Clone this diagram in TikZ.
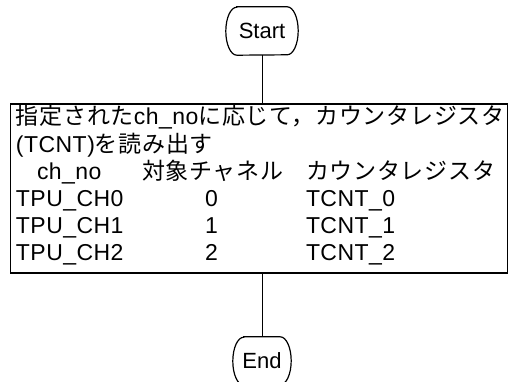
\documentclass[tikz,border=0pt]{standalone}
\usepackage{fontspec}
\setmainfont{Liberation Sans}[LetterSpace=2]
\newfontfamily\jpfont{Noto Sans CJK JP}[LetterSpace=3.2]
\newfontfamily\plainfont{Liberation Sans}
\newcommand\jp[1]{{\jpfont #1}}
\newcommand\termoutline[1]{%
  \draw[termline] ([xshift=11pt]#1.north west) -- ([xshift=-11pt]#1.north east)
    arc[start angle=90,end angle=-90,x radius=11pt,y radius=24pt]
    -- ([xshift=11pt]#1.south west)
    arc[start angle=270,end angle=90,x radius=11pt,y radius=24pt] -- cycle;}
\begin{document}
\begin{tikzpicture}[x=1pt,y=1pt,
  font=\fontsize{23pt}{27pt}\selectfont,
  txt/.style={anchor=base west, inner sep=0pt, outer sep=0pt},
  term/.style={minimum height=48pt, inner sep=0pt, font=\plainfont\fontsize{22pt}{26pt}\selectfont},
  procbox/.style={draw, line width=1.6pt, minimum width=497pt, minimum height=169pt, inner sep=0pt},
  conn/.style={line width=1pt},
  termline/.style={line width=1.2pt}]
\useasboundingbox (0,0) rectangle (509,381);
\node[term, minimum width=72pt] (start) at (262,350) {Start};
\node[term, minimum width=58pt] (end) at (262,20) {End};
\termoutline{start}
\termoutline{end}
\node[procbox] (box) at (259,192.5) {};
\node[txt] (r1) at (16,256) {\jp{指定された}ch\_no\jp{に応じて，カウンタレジスタ}};
\node[txt] (r2) at (16,229) {(TCNT)\jp{を読み出す}};
\node[txt] (h1) at (37,202) {ch\_no};
\node[txt] (h2) at (142,202) {\jp{対象チャネル}};
\node[txt] (h3) at (306,202) {\jp{カウンタレジスタ}};
\node[txt] (a1) at (16,175) {TPU\_CH0};
\node[txt] (a2) at (205,175) {0};
\node[txt] (a3) at (306,175) {TCNT\_0};
\node[txt] (b1) at (16,148) {TPU\_CH1};
\node[txt] (b2) at (205,148) {1};
\node[txt] (b3) at (306,148) {TCNT\_1};
\node[txt] (c1) at (16,121) {TPU\_CH2};
\node[txt] (c2) at (205,121) {2};
\node[txt] (c3) at (306,121) {TCNT\_2};
\draw[conn] (start.south) -- (start.south |- box.north);
\draw[conn] (end.north |- box.south) -- (end.north);
\end{tikzpicture}
\end{document}
